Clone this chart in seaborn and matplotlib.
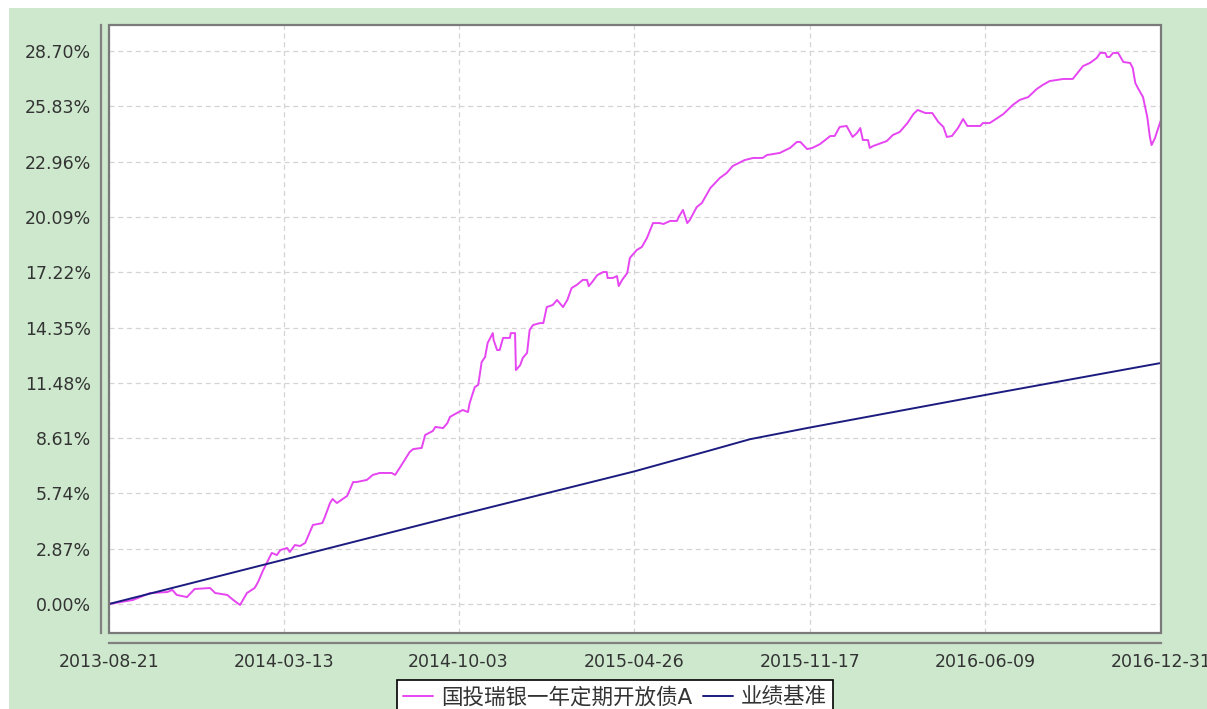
import numpy as np
import pandas as pd
import matplotlib
matplotlib.use("Agg")
import matplotlib.pyplot as plt
import matplotlib.dates as mdates
from matplotlib.patches import Rectangle
from matplotlib.lines import Line2D
import seaborn as sns

# ---------------- data ----------------
start_date = "2013-08-21"
end_date = "2016-12-31"

fund_name = "国投瑞银一年定期开放债A"
bench_name = "业绩基准"

# days since start, cumulative return (%)
fund_days = [0, 28, 48, 68, 74, 79, 91, 100, 118, 124, 138, 145, 153, 161, 170, 174, 180,
             190, 196, 200, 208, 211, 217, 223, 229, 238, 249, 252, 258, 261, 266, 278, 285,
             289, 301, 308, 316, 330, 334, 340, 351, 355, 365, 369, 378, 381, 390, 395, 398,
             406, 413, 419, 421, 427, 431, 435, 439, 442, 448, 449, 453, 456, 460, 468, 469,
             474, 475, 480, 483, 488, 491, 495, 503, 507, 511, 518, 523, 530, 535, 540, 546,
             553, 558, 560, 564, 570, 577, 581, 582, 588, 593, 595, 599, 605, 608, 616, 622,
             628, 635, 643, 647, 655, 663, 665, 670, 675, 678, 686, 692, 702, 713, 721, 728,
             742, 752, 763, 768, 783, 795, 803, 807, 815, 821, 830, 842, 847, 853, 861, 868,
             873, 877, 880, 886, 888, 892, 908, 915, 923, 932, 939, 944, 953, 961, 968, 974,
             978, 984, 991, 997, 1002, 1007, 1017, 1020, 1028, 1037, 1044, 1055, 1063, 1073,
             1083, 1090, 1098, 1114, 1125, 1137, 1145, 1153, 1157, 1163, 1165, 1168, 1172,
             1178, 1184, 1192, 1195, 1198, 1201, 1207, 1212, 1215, 1217, 1221, 1224, 1228]
fund_vals = [0.00, 0.21, 0.57, 0.62, 0.73, 0.47, 0.36, 0.78, 0.83, 0.57, 0.47, 0.21, -0.05,
             0.57, 0.83, 1.14, 1.76, 2.65, 2.54, 2.80, 2.91, 2.70, 3.06, 3.01, 3.17, 4.10,
             4.20, 4.52, 5.24, 5.45, 5.24, 5.61, 6.33, 6.33, 6.44, 6.70, 6.80, 6.80, 6.70,
             7.11, 7.89, 8.04, 8.10, 8.77, 8.98, 9.19, 9.13, 9.39, 9.71, 9.91, 10.07, 9.96,
             10.43, 11.26, 11.37, 12.56, 12.82, 13.55, 14.06, 13.70, 13.18, 13.18, 13.81,
             13.81, 14.06, 14.06, 12.14, 12.40, 12.77, 13.03, 14.22, 14.48, 14.58, 14.58,
             15.41, 15.52, 15.78, 15.41, 15.78, 16.40, 16.56, 16.82, 16.82, 16.50, 16.71,
             17.07, 17.23, 17.23, 16.92, 16.92, 17.02, 16.50, 16.82, 17.18, 17.96, 18.37,
             18.53, 19.00, 19.77, 19.77, 19.72, 19.88, 19.88, 20.09, 20.45, 19.77, 19.93,
             20.60, 20.81, 21.59, 22.11, 22.37, 22.73, 23.04, 23.15, 23.15, 23.30, 23.41,
             23.67, 23.98, 23.98, 23.61, 23.67, 23.87, 24.29, 24.29, 24.76, 24.81, 24.24,
             24.44, 24.70, 24.08, 24.08, 23.67, 23.77, 24.03, 24.34, 24.50, 24.96, 25.43,
             25.64, 25.48, 25.48, 25.02, 24.76, 24.24, 24.29, 24.70, 25.17, 24.81, 24.81,
             24.81, 24.96, 24.96, 25.22, 25.43, 25.90, 26.16, 26.31, 26.73, 26.94, 27.14,
             27.25, 27.25, 27.92, 28.08, 28.34, 28.60, 28.60, 28.39, 28.39, 28.60, 28.60,
             28.13, 28.08, 27.82, 27.04, 26.78, 26.31, 25.27, 24.24, 23.82, 24.18, 24.60,
             25.12]

bench_days = [0, 204, 409, 613, 700, 748, 817, 1023, 1228]
bench_vals = [0.00, 2.30, 4.62, 6.88, 7.95, 8.55, 9.15, 10.85, 12.51]

x_tick_labels = ["2013-08-21", "2014-03-13", "2014-10-03", "2015-04-26",
                 "2015-11-17", "2016-06-09", "2016-12-31"]
y_tick_vals = [0.00, 2.87, 5.74, 8.61, 11.48, 14.35, 17.22, 20.09, 22.96, 25.83, 28.70]

# ---------------- build frame ----------------
t0 = pd.Timestamp(start_date)
df = pd.concat([
    pd.DataFrame({"date": t0 + pd.to_timedelta(fund_days, unit="D"),
                  "value": fund_vals, "series": fund_name}),
    pd.DataFrame({"date": t0 + pd.to_timedelta(bench_days, unit="D"),
                  "value": bench_vals, "series": bench_name}),
], ignore_index=True)

# ---------------- style ----------------
sns.set_style("white")
plt.rcParams["font.family"] = ["DejaVu Sans", "Noto Sans CJK SC"]

fund_color = "#E645F2"
bench_color = "#1C1C80"
bg_green = "#CDE8CD"
text_color = "#333333"

W, H = 1207, 709
fig = plt.figure(figsize=(W / 100, H / 100), dpi=100, facecolor="white")
fig.patches.append(Rectangle((9 / W, 0), 1, (H - 8) / H, transform=fig.transFigure,
                             facecolor=bg_green, edgecolor="none", zorder=-10))

left, right, top, bottom = 109, 1161, 25, 633
ax = fig.add_axes([left / W, (H - bottom) / H, (right - left) / W, (bottom - top) / H])
ax.set_facecolor("white")

sns.lineplot(data=df, x="date", y="value", hue="series",
             palette={fund_name: fund_color, bench_name: bench_color},
             linewidth=1.4, legend=False, ax=ax, estimator=None, sort=False)

ax.set_xlim(pd.Timestamp(start_date), pd.Timestamp(end_date))
ax.set_ylim(-1.505, 30.05)

ax.set_xticks([pd.Timestamp(s) for s in x_tick_labels])
ax.set_xticklabels(x_tick_labels)
ax.set_yticks(y_tick_vals)
ax.set_yticklabels([f"{v:.2f}%" for v in y_tick_vals])

ax.set_xlabel("")
ax.set_ylabel("")

ax.grid(True, color="#D4D4D4", linestyle=(0, (4, 3)), linewidth=0.9)

for side in ["top", "right"]:
    ax.spines[side].set_visible(False)
ax.spines["left"].set_position(("outward", 6))
ax.spines["bottom"].set_position(("outward", 7.5))
for side in ["left", "bottom"]:
    ax.spines[side].set_color("#808080")
    ax.spines[side].set_linewidth(1.6)

ax.add_patch(Rectangle((0, 0), 1, 1, transform=ax.transAxes, fill=False,
                       edgecolor="#7A7A7A", linewidth=1.6, zorder=5, clip_on=False))

ax.tick_params(axis="both", which="major", direction="out", length=4, width=1,
               color="#808080", labelsize=12.5, labelcolor=text_color)
ax.tick_params(axis="x", pad=3)
ax.tick_params(axis="y", pad=3)

handles = [Line2D([], [], color=fund_color, linewidth=1.4),
           Line2D([], [], color=bench_color, linewidth=1.4)]
leg = fig.legend(handles, [fund_name, bench_name], loc="upper center",
                 bbox_to_anchor=(615 / W, (H - 680) / H), ncol=2, frameon=True,
                 fancybox=False, edgecolor="black", facecolor="white", framealpha=1,
                 fontsize=15.5, handlelength=1.4, handletextpad=0.35, columnspacing=0.5,
                 borderpad=0.3, borderaxespad=0)
leg.get_frame().set_linewidth(1.2)
for t in leg.get_texts():
    t.set_color(text_color)

fig.savefig("out.png", dpi=100, facecolor=fig.get_facecolor())
